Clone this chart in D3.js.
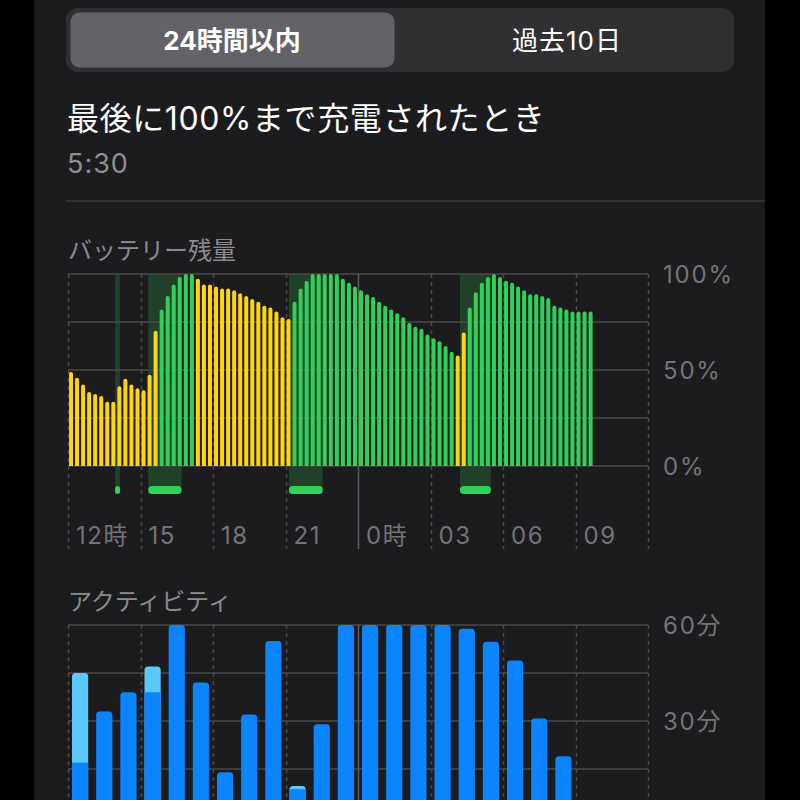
<!DOCTYPE html>
<html><head><meta charset="utf-8">
<script src="https://cdn.jsdelivr.net/npm/d3@7"></script>
<style>
html,body{margin:0;padding:0;background:#000;}
svg{display:block;font-family:Inter,"Noto Sans CJK JP","Noto Sans",sans-serif;}
</style></head>
<body><svg id="c" width="800" height="800"></svg>
<script>
// ---- data ----
const tabs = ["24時間以内", "過去10日"];
const headline = "最後に100%まで充電されたとき";
const lastFullTime = "5:30";
const batteryTitle = "バッテリー残量";
const activityTitle = "アクティビティ";
const hourLabels = ["12時", "15", "18", "21", "0時", "03", "06", "09"];
const batteryTickValues = [0, 25, 50, 75, 100];
const batteryTickLabels = ["0%", "", "50%", "", "100%"];
const activityTickValues = [0, 15, 30, 45, 60];
const activityTickLabels = ["", "", "30分", "", "60分"];
// battery level per 15-minute slot starting 12:00
const batteryLevels = [49, 46, 42.5, 38.5, 37.5, 36.5, 33.5, 33.5, 41.5, 45.5, 42.5, 40.5, 39.5, 47.5, 70.5,
  81.5, 88.5, 94.5, 98.5, 100, 100,
  97.5, 94.5, 94.5, 93.5, 92.5, 92.5, 91.5, 90, 88.5, 87, 85.5, 83.5, 82.5, 80.5, 77.5, 76.5,
  85.5, 92.5, 96.5, 100, 100, 100, 100, 100, 97.5, 95.5, 93.5, 91.5, 89.5, 88, 85.5, 83.5, 81.5, 79.5, 77.5, 74.5, 72.5, 71.5, 68.5, 66.5, 65, 62.5, 59.5,
  57.5, 69.5,
  82.5, 90.5, 95.5, 98.5, 100, 98.5, 96.5, 95.5, 93.5, 91.5, 89.5, 89.5, 88.5, 87.5, 83.5, 82.5, 81.5, 80.5, 80.5, 80.5, 80.5];
// 'y' = low power (yellow), 'g' = normal (green)
const batteryModes = [
  "y","y","y","y","y","y","y","y","y","y","y","y","y","y","y",
  "g","g","g","g","g","g",
  "y","y","y","y","y","y","y","y","y","y","y","y","y","y","y","y",
  "g","g","g","g","g","g","g","g","g","g","g","g","g","g","g","g","g","g","g","g","g","g","g","g","g","g","g",
  "y","y",
  "g","g","g","g","g","g","g","g","g","g","g","g","g","g","g","g","g","g","g","g","g"];
// charging periods, hours after 12:00
const chargeStart = [1.95, 3.32, 9.14, 16.22];
const chargeEnd   = [2.15, 4.70, 10.54, 17.50];
// activity minutes per hour starting 12:00
const screenOn  = [17, 33, 39, 39, 60, 42, 14, 32, 55, 8.7, 29, 60, 60, 60, 60, 60, 58.8, 54.8, 48.9, 30.8, 19, 0, 0, 0];
const screenOff = [28, 0, 0, 8, 0, 0, 0, 0, 0, 1, 0, 0, 0, 0, 0, 0, 0, 0, 0, 0, 0, 0, 0, 0];

// ---- drawing ----
const svg = d3.select("#c");
const L = 68, R = 648;
const GRID = "#48484a", AXIS_TXT = "#737378", TITLE_TXT = "#8a8a8f";
const GREEN = "#30d158", YELLOW = "#ffd60a", BLUE = "#0a84ff", LBLUE = "#5ac8fa";

svg.append("rect").attr("x", 34).attr("y", 0).attr("width", 731).attr("height", 800).attr("fill", "#1c1c1e");

// segmented control
svg.append("rect").attr("x", 66).attr("y", 8).attr("width", 668).attr("height", 64).attr("rx", 12).attr("fill", "#303033");
svg.append("rect").attr("x", 70.5).attr("y", 12.5).attr("width", 324).attr("height", 55).attr("rx", 9).attr("fill", "#636367");
svg.append("text").attr("x", 232).attr("y", 50).attr("text-anchor", "middle").attr("fill", "#fff")
  .attr("font-size", 26).attr("font-weight", 700).text(tabs[0]);
svg.append("text").attr("x", 567).attr("y", 50).attr("text-anchor", "middle").attr("fill", "#fff")
  .attr("font-size", 26).attr("font-weight", 400).attr("letter-spacing", 1).text(tabs[1]);

svg.append("text").attr("x", 67).attr("y", 130).attr("fill", "#fff").attr("font-size", 32)
  .attr("letter-spacing", 0.6).text(headline);
svg.append("text").attr("x", 67).attr("y", 173).attr("fill", "#8e8e93").attr("font-size", 27)
  .attr("letter-spacing", 1).text(lastFullTime);
svg.append("line").attr("x1", 66).attr("x2", 765).attr("y1", 201).attr("y2", 201).attr("stroke", "#38383a").attr("stroke-width", 1.5);

const t0 = new Date(2024, 0, 1, 12, 0, 0);
const hr = 3600 * 1000;
const x = d3.scaleTime().domain([t0, new Date(+t0 + 24 * hr)]).range([L, R]);
const tickTimes = d3.range(9).map(i => new Date(+t0 + i * 3 * hr));

function topRound(x0, y0, w, h, r) {
  r = Math.min(r, w / 2, h);
  return `M${x0},${y0 + h}V${y0 + r}Q${x0},${y0} ${x0 + r},${y0}H${x0 + w - r}Q${x0 + w},${y0} ${x0 + w},${y0 + r}V${y0 + h}Z`;
}

// ---- battery chart ----
svg.append("text").attr("x", 68).attr("y", 259).attr("fill", TITLE_TXT).attr("font-size", 24).text(batteryTitle);
const yB = d3.scaleLinear().domain([0, 100]).range([466, 274]);
const gB = svg.append("g");

// charge shading
chargeStart.forEach((s, i) => {
  const x0 = x(new Date(+t0 + s * hr)), x1 = x(new Date(+t0 + chargeEnd[i] * hr));
  gB.append("rect").attr("x", x0).attr("y", yB(100)).attr("width", x1 - x0).attr("height", 494 - yB(100))
    .attr("fill", "rgba(48,209,88,0.2)");
  gB.append("rect").attr("x", x0).attr("y", 486).attr("width", x1 - x0).attr("height", 8)
    .attr("rx", Math.min(4, (x1 - x0) / 2)).attr("fill", GREEN);
});

batteryTickValues.forEach(v => {
  gB.append("line").attr("x1", L).attr("x2", R).attr("y1", yB(v)).attr("y2", yB(v)).attr("stroke", GRID).attr("stroke-width", 1.5);
});
tickTimes.forEach((t, i) => {
  const xx = Math.round(x(t)) + 0.5;
  gB.append("line").attr("x1", xx).attr("x2", xx).attr("y1", 274).attr("y2", 549)
    .attr("stroke", i === 4 ? "#5a5a5e" : GRID).attr("stroke-width", 1.5)
    .attr("stroke-dasharray", i === 4 ? null : "4,4");
});

const xb = d3.scaleBand().domain(d3.range(96)).range([L, R]).paddingInner(0.34).paddingOuter(0.17);
gB.selectAll("path.bb").data(batteryLevels).join("path").attr("class", "bb")
  .attr("d", (d, i) => topRound(xb(i), yB(d), xb.bandwidth(), yB(0) - yB(d), 2))
  .attr("fill", (d, i) => batteryModes[i] === "y" ? YELLOW : GREEN);

batteryTickLabels.forEach((lab, i) => {
  if (!lab) return;
  gB.append("text").attr("x", 663).attr("y", yB(batteryTickValues[i])).attr("dy", "0.36em")
    .attr("fill", AXIS_TXT).attr("font-size", 24).attr("letter-spacing", 1.8).text(lab);
});
hourLabels.forEach((lab, i) => {
  gB.append("text").attr("x", x(tickTimes[i]) + 8).attr("y", 544).attr("fill", AXIS_TXT).attr("font-size", 24)
    .attr("letter-spacing", 1.5).text(lab);
});

// ---- activity chart ----
svg.append("text").attr("x", 68).attr("y", 610).attr("fill", TITLE_TXT).attr("font-size", 24).text(activityTitle);
const yA = d3.scaleLinear().domain([0, 60]).range([817, 625]);
const gA = svg.append("g");
activityTickValues.forEach(v => {
  gA.append("line").attr("x1", L).attr("x2", R).attr("y1", yA(v)).attr("y2", yA(v)).attr("stroke", GRID).attr("stroke-width", 1.5);
});
tickTimes.forEach((t, i) => {
  const xx = Math.round(x(t)) + 0.5;
  gA.append("line").attr("x1", xx).attr("x2", xx).attr("y1", 625).attr("y2", 800)
    .attr("stroke", i === 4 ? "#5a5a5e" : GRID).attr("stroke-width", 1.5)
    .attr("stroke-dasharray", i === 4 ? null : "4,4");
});
const xa = d3.scaleBand().domain(d3.range(24)).range([L, R]).paddingInner(0.33).paddingOuter(0.165);
screenOn.forEach((on, i) => {
  const total = on + screenOff[i];
  if (total <= 0) return;
  gA.append("path").attr("d", topRound(xa(i), yA(total), xa.bandwidth(), yA(0) - yA(total), 3.5))
    .attr("fill", screenOff[i] > 0 ? LBLUE : BLUE);
  if (screenOff[i] > 0) {
    gA.append("rect").attr("x", xa(i)).attr("y", yA(on)).attr("width", xa.bandwidth()).attr("height", yA(0) - yA(on)).attr("fill", BLUE);
  }
});
activityTickLabels.forEach((lab, i) => {
  if (!lab) return;
  gA.append("text").attr("x", 663).attr("y", yA(activityTickValues[i])).attr("dy", "0.36em")
    .attr("fill", AXIS_TXT).attr("font-size", 24).attr("letter-spacing", 1.8).text(lab);
});
</script></body></html>
